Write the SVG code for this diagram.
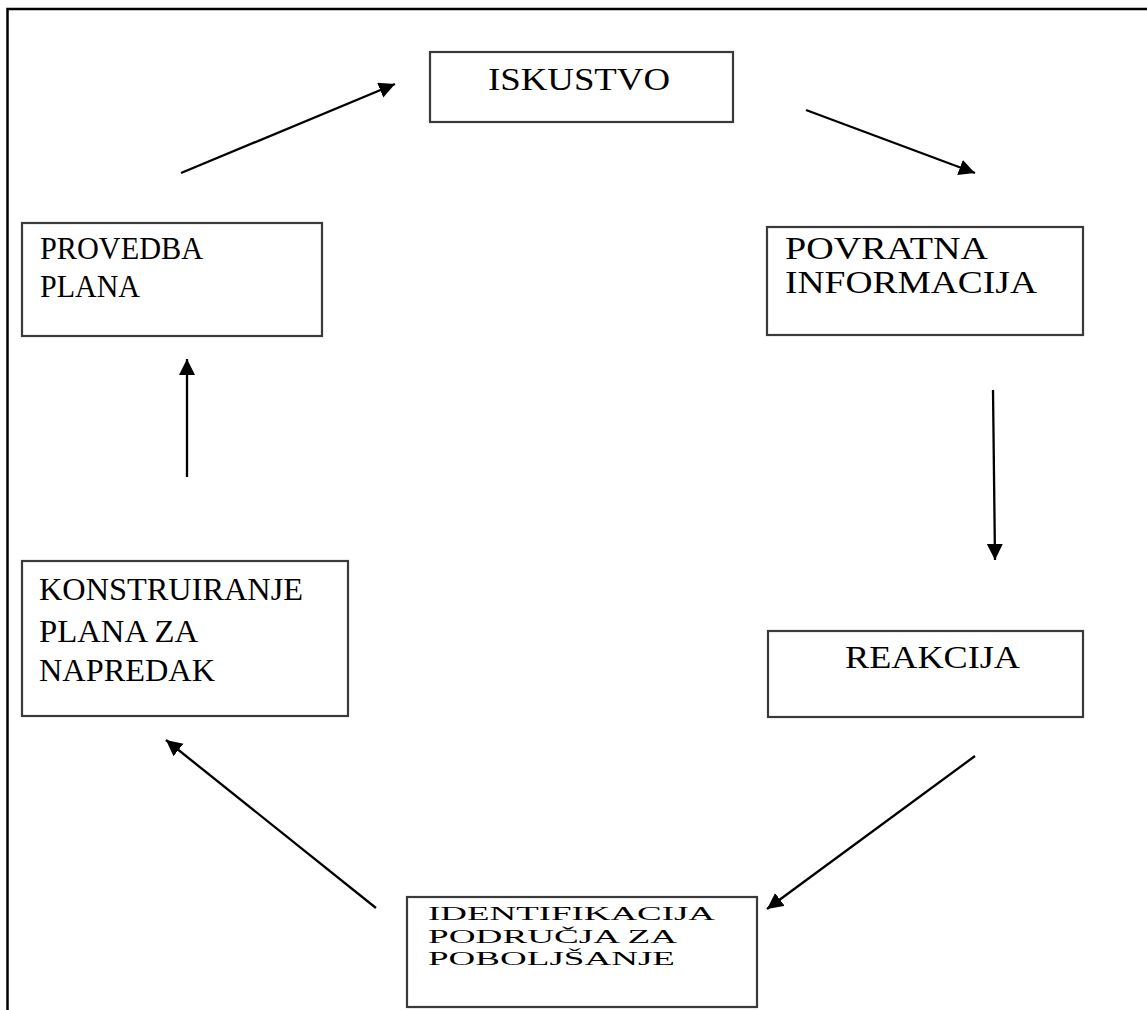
<svg xmlns="http://www.w3.org/2000/svg" width="1147" height="1010" viewBox="0 0 1147 1010">
<style>
.box{fill:#fff;stroke:#3a3a3a;stroke-width:2.2}
.t{font-family:"Liberation Serif","Times New Roman",serif;font-size:32px;fill:#000}
.s{font-family:"Liberation Serif","Times New Roman",serif;font-size:18.5px;fill:#000}
.c{stroke:#000;stroke-width:2.3;fill:none;marker-end:url(#ah)}
</style>
<defs>
<marker id="ah" markerUnits="userSpaceOnUse" markerWidth="18" markerHeight="18" refX="16" refY="8" orient="auto">
<path d="M0,0 L16,8 L0,16 Z" fill="#000"/>
</marker>
</defs>
<rect width="1147" height="1010" fill="#fff"/>
<g id="frame">
<path d="M7.5,1010 V9 H1147" stroke="#000" stroke-width="2.5" fill="none"/>
</g>
<g id="iskustvo">
<rect class="box" x="430" y="52" width="303" height="70"/>
<text class="t" x="488" y="90" textLength="182" lengthAdjust="spacingAndGlyphs">ISKUSTVO</text>
</g>
<g id="povratna">
<rect class="box" x="767" y="227" width="316" height="108"/>
<text class="t" x="785" y="259" textLength="203" lengthAdjust="spacingAndGlyphs">POVRATNA</text>
<text class="t" x="785" y="293" textLength="252" lengthAdjust="spacingAndGlyphs">INFORMACIJA</text>
</g>
<g id="reakcija">
<rect class="box" x="768" y="631" width="315" height="86"/>
<text class="t" x="845" y="668" textLength="175" lengthAdjust="spacingAndGlyphs">REAKCIJA</text>
</g>
<g id="identifikacija">
<rect class="box" x="407" y="897" width="350" height="110"/>
<text class="s" x="428" y="920" textLength="287" lengthAdjust="spacingAndGlyphs">IDENTIFIKACIJA</text>
<text class="s" x="428" y="943" textLength="249" lengthAdjust="spacingAndGlyphs">PODRUČJA ZA</text>
<text class="s" x="428" y="965" textLength="247" lengthAdjust="spacingAndGlyphs">POBOLJŠANJE</text>
</g>
<g id="konstruiranje">
<rect class="box" x="22" y="561" width="326" height="155"/>
<text class="t" x="39" y="600" textLength="264" lengthAdjust="spacingAndGlyphs">KONSTRUIRANJE</text>
<text class="t" x="39" y="642" textLength="159" lengthAdjust="spacingAndGlyphs">PLANA ZA</text>
<text class="t" x="39" y="681" textLength="176" lengthAdjust="spacingAndGlyphs">NAPREDAK</text>
</g>
<g id="provedba">
<rect class="box" x="22" y="223" width="300" height="113"/>
<text class="t" x="40" y="259" textLength="163" lengthAdjust="spacingAndGlyphs">PROVEDBA</text>
<text class="t" x="40" y="297" textLength="100" lengthAdjust="spacingAndGlyphs">PLANA</text>
</g>
<g id="connectors">
<line class="c" x1="181" y1="173" x2="395" y2="84"/>
<line class="c" x1="806" y1="110" x2="975" y2="173"/>
<line class="c" x1="993" y1="390" x2="995" y2="560"/>
<line class="c" x1="975" y1="756" x2="767" y2="909"/>
<line class="c" x1="376" y1="908" x2="166" y2="740"/>
<line class="c" x1="187" y1="477" x2="187" y2="359"/>
</g>
</svg>
